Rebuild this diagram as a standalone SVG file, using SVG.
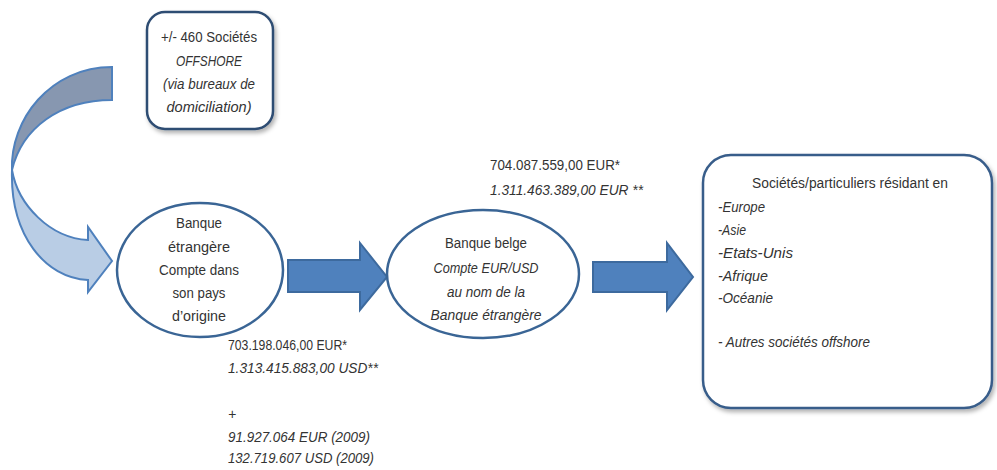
<svg xmlns="http://www.w3.org/2000/svg" width="997" height="470" viewBox="0 0 997 470">
<defs>
<style>
.t{font-family:"Liberation Sans",Arial,sans-serif;font-size:14px;fill:#333333}
.c{text-anchor:middle}
.i{font-style:italic}
.box{fill:#ffffff;stroke:#2f4d73;stroke-width:2.5}
.ell{fill:#ffffff;stroke:#3a6595;stroke-width:2.5}
.arr{fill:#4f81bd;stroke:#3d6a9e;stroke-width:2}
</style>
<filter id="sh" x="-10%" y="-10%" width="125%" height="125%">
<feDropShadow dx="2" dy="3" stdDeviation="2" flood-color="#000" flood-opacity="0.3"/>
</filter>
</defs>
<rect width="997" height="470" fill="#ffffff"/>

<g id="connectors">
<g id="curved-arrow">
<path d="M112,67 L112,100 C60,100 22,128 12,170 C10,120 50,67 112,67 Z" fill="#8797b0" stroke="#4f81bd" stroke-width="2"/>
<path d="M12,170 C18,205 50,238 88,240 L88,227 L112,261 L88,292 L88,280 C45,278 10,235 12,170 Z" fill="#b9cde5" stroke="#4f81bd" stroke-width="2"/>
</g>
<path id="arrow1" class="arr" d="M288,260 L360,260 L360,243 L387,277 L360,310 L360,292 L288,292 Z"/>
<path id="arrow2" class="arr" d="M593,262 L667,262 L667,243 L693,277 L667,310 L667,292 L593,292 Z"/>
</g>

<g id="offshore">
<rect class="box" x="147" y="12" width="126" height="117" rx="18" filter="url(#sh)"/>
<text class="t c" x="209" y="42" textLength="96" lengthAdjust="spacingAndGlyphs">+/- 460 Sociétés</text>
<text class="t c i" x="209" y="66" textLength="66" lengthAdjust="spacingAndGlyphs">OFFSHORE</text>
<text class="t c i" x="209" y="89" textLength="92" lengthAdjust="spacingAndGlyphs">(via bureaux de</text>
<text class="t c i" x="209" y="112" textLength="85" lengthAdjust="spacingAndGlyphs">domiciliation)</text>
</g>

<g id="banque-etrangere">
<ellipse class="ell" cx="200" cy="270" rx="83" ry="67"/>
<text class="t c" x="199" y="228" textLength="46" lengthAdjust="spacingAndGlyphs">Banque</text>
<text class="t c" x="199" y="252" textLength="62" lengthAdjust="spacingAndGlyphs">étrangère</text>
<text class="t c" x="199" y="275" textLength="80" lengthAdjust="spacingAndGlyphs">Compte dans</text>
<text class="t c" x="199" y="298" textLength="53" lengthAdjust="spacingAndGlyphs">son pays</text>
<text class="t c" x="199" y="321" textLength="54" lengthAdjust="spacingAndGlyphs">d’origine</text>
</g>

<g id="banque-belge">
<ellipse class="ell" cx="483" cy="274" rx="96" ry="64"/>
<text class="t c" x="486" y="248" textLength="82" lengthAdjust="spacingAndGlyphs">Banque belge</text>
<text class="t c i" x="486" y="273" textLength="105" lengthAdjust="spacingAndGlyphs">Compte EUR/USD</text>
<text class="t c i" x="486" y="297" textLength="78" lengthAdjust="spacingAndGlyphs">au nom de la</text>
<text class="t c i" x="486" y="320" textLength="111" lengthAdjust="spacingAndGlyphs">Banque étrangère</text>
</g>

<g id="destinataires">
<rect class="box" x="703" y="155" width="289" height="253" rx="28" filter="url(#sh)" style="stroke:#385d8a"/>
<text class="t c" x="850" y="188" textLength="196" lengthAdjust="spacingAndGlyphs">Sociétés/particuliers résidant en</text>
<text class="t i" x="718" y="212" textLength="47" lengthAdjust="spacingAndGlyphs">-Europe</text>
<text class="t i" x="718" y="235" textLength="28" lengthAdjust="spacingAndGlyphs">-Asie</text>
<text class="t i" x="718" y="258" textLength="75" lengthAdjust="spacingAndGlyphs">-Etats-Unis</text>
<text class="t i" x="718" y="281" textLength="50" lengthAdjust="spacingAndGlyphs">-Afrique</text>
<text class="t i" x="718" y="303" textLength="55" lengthAdjust="spacingAndGlyphs">-Océanie</text>
<text class="t i" x="718" y="347" textLength="152" lengthAdjust="spacingAndGlyphs">- Autres sociétés offshore</text>
</g>

<g id="montants-belge">
<text class="t" x="490" y="170" textLength="130" lengthAdjust="spacingAndGlyphs">704.087.559,00 EUR*</text>
<text class="t i" x="490" y="195" textLength="153" lengthAdjust="spacingAndGlyphs">1.311.463.389,00 EUR **</text>
</g>

<g id="montants-etrangere">
<text class="t" x="228" y="350" textLength="119" lengthAdjust="spacingAndGlyphs">703.198.046,00 EUR*</text>
<text class="t i" x="228" y="373" textLength="150" lengthAdjust="spacingAndGlyphs">1.313.415.883,00 USD**</text>
<text class="t i" x="228" y="419">+</text>
<text class="t i" x="228" y="442" textLength="142" lengthAdjust="spacingAndGlyphs">91.927.064 EUR (2009)</text>
<text class="t i" x="228" y="463" textLength="146" lengthAdjust="spacingAndGlyphs">132.719.607 USD (2009)</text>
</g>
</svg>
